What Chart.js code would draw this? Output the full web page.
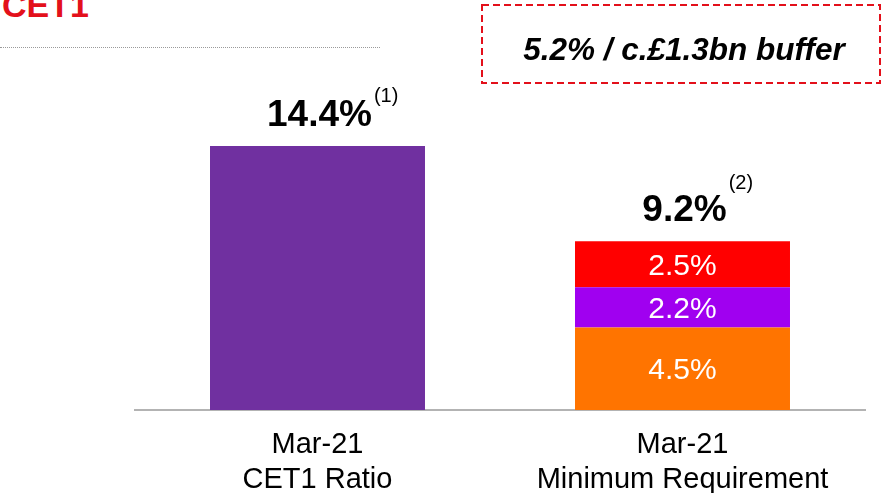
<!DOCTYPE html>
<html>
<head>
<meta charset="utf-8">
<script src="https://cdn.jsdelivr.net/npm/chart.js@4.4.1/dist/chart.umd.min.js"></script>
<style>
  html, body { margin: 0; padding: 0; background: #fff; }
  body { width: 886px; height: 493px; position: relative; overflow: hidden; font-family: "Liberation Sans", Arial, sans-serif; }
  #title { position: absolute; left: 2px; top: -12px; font-size: 34px; line-height: 34px; font-weight: bold; color: #e3101b; }
  #rule { position: absolute; left: 0; top: 47px; width: 380px; border-top: 1px dotted #9a9a9a; }
  #cv { position: absolute; left: 0; top: 0; }
</style>
</head>
<body>
<div id="title">CET1</div>
<div id="rule"></div>
<canvas id="cv" width="886" height="493"></canvas>
<script>
const categories = [['Mar-21', 'CET1 Ratio'], ['Mar-21', 'Minimum Requirement']];
const cet1Ratio = [14.4, null];
const pillar1 = [null, 4.5];
const pillar2a = [null, 2.2];
const combinedBuffer = [null, 2.5];
const totalNotes = ['(1)', '(2)'];
const bufferText = '5.2% / c.£1.3bn buffer';

const FONT = '"Liberation Sans", Arial, sans-serif';

// values inside the stacked segments and totals above each column
const barLabels = {
    id: 'barLabels',
    afterDatasetsDraw(chart, args, opts) {
        const ctx = chart.ctx;
        const x = chart.scales.x, y = chart.scales.y;
        ctx.save();
        ctx.textAlign = 'center';
        ctx.textBaseline = 'middle';
        ctx.fillStyle = '#fff';
        ctx.font = '30px ' + FONT;
        chart.data.datasets.forEach((ds, i) => {
            if (!ds.showInside) return;
            chart.getDatasetMeta(i).data.forEach((bar, j) => {
                const v = ds.data[j];
                if (v == null) return;
                ctx.fillText(v.toFixed(1) + '%', bar.x, (bar.y + bar.base) / 2 + 2);
            });
        });

        ctx.fillStyle = '#000';
        ctx.textBaseline = 'alphabetic';
        categories.forEach((c, j) => {
            const total = chart.data.datasets.reduce((s, ds) => s + (ds.data[j] || 0), 0);
            const top = y.getPixelForValue(total);
            const cx = x.getPixelForValue(j) + 2;
            const txt = total.toFixed(1) + '%';
            ctx.font = 'bold 37px ' + FONT;
            ctx.textAlign = 'center';
            const base = top - 20;
            ctx.fillText(txt, cx, base);
            const w = ctx.measureText(txt).width;
            ctx.font = '20px ' + FONT;
            ctx.textAlign = 'left';
            ctx.fillText(totalNotes[j], cx + w / 2 + 2, base - opts.raise[j]);
        });
        ctx.restore();
    }
};

// dashed callout box in the top right corner
const bufferBox = {
    id: 'bufferBox',
    afterDraw(chart) {
        const ctx = chart.ctx;
        ctx.save();
        ctx.strokeStyle = '#e3101b';
        ctx.lineWidth = 2;
        ctx.setLineDash([7, 4]);
        ctx.strokeRect(482, 5, 398, 78);
        ctx.setLineDash([]);
        ctx.fillStyle = '#000';
        ctx.font = 'italic bold 31.5px ' + FONT;
        ctx.textAlign = 'center';
        ctx.textBaseline = 'alphabetic';
        ctx.fillText(bufferText, 684, 60);
        ctx.restore();
    }
};

new Chart(document.getElementById('cv'), {
    type: 'bar',
    data: {
        labels: categories,
        datasets: [
            { label: 'CET1 Ratio', data: cet1Ratio, backgroundColor: '#7030a0' },
            { label: 'Pillar 1', data: pillar1, backgroundColor: '#ff7400', showInside: true },
            { label: 'Pillar 2A', data: pillar2a, backgroundColor: '#a000f0', showInside: true },
            { label: 'Combined buffer', data: combinedBuffer, backgroundColor: '#ff0000', showInside: true }
        ]
    },
    options: {
        responsive: false,
        animation: false,
        devicePixelRatio: 1,
        layout: { padding: { left: 135, right: 21, top: 98.4, bottom: 0 } },
        datasets: { bar: { categoryPercentage: 0.589, barPercentage: 1, borderWidth: 0 } },
        plugins: {
            legend: { display: false },
            tooltip: { enabled: false },
            barLabels: { raise: [24, 32] }
        },
        scales: {
            x: {
                stacked: true,
                grid: { display: false, drawTicks: false },
                border: { display: true, color: '#b3b3b3', width: 2 },
                ticks: { color: '#000', font: { family: FONT, size: 29, lineHeight: 1.2 }, padding: 18, maxRotation: 0 },
                afterFit(scale) { scale.height = 83; }
            },
            y: {
                stacked: true,
                display: false,
                min: 0,
                max: 17
            }
        }
    },
    plugins: [barLabels, bufferBox]
});
</script>
</body>
</html>
